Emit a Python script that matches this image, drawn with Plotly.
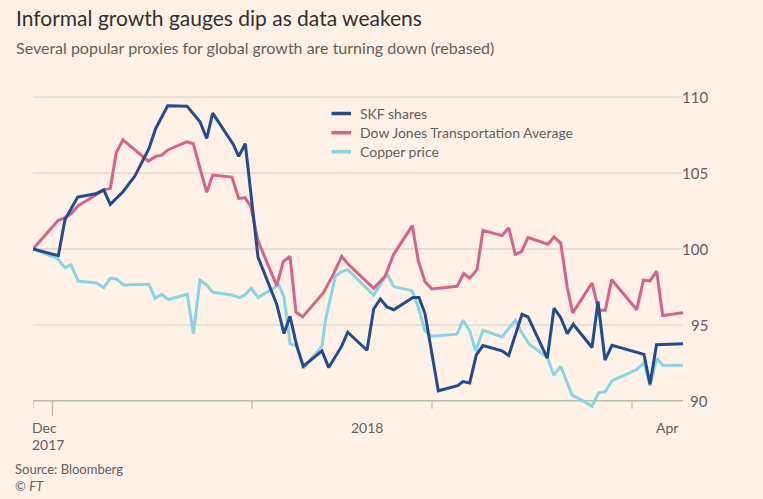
import plotly.graph_objects as go

# ---------------- data (t = position along the time axis, chart units) ----------------
series_names = ["SKF shares", "Dow Jones Transportation Average", "Copper price"]
series_colors = ["#234b8f", "#d4648c", "#86d5e3"]

skf_t = [0, 25.3, 32, 44.7, 62.7, 70.7, 77.3, 90, 102, 116, 122.7, 134.7, 154, 167, 173.7, 179.7,
         200.3, 205.7, 212.3, 225, 243.7, 251, 257, 263.7, 270.3, 289, 295.7, 308.7, 314.7, 334,
         340.7, 347.3, 354, 360.7, 380, 386, 392, 405.3, 424.7, 430, 436.7, 443.3, 450, 469, 475.7,
         489, 495, 514.3, 521, 527.7, 534.3, 540.3, 559, 565, 572, 579, 611, 617, 623.5, 650]
skf_v = [100, 99.56, 101.95, 103.42, 103.64, 103.9, 102.94, 103.77, 104.82, 106.62, 107.94, 109.43,
         109.41, 108.38, 107.28, 108.95, 106.89, 106.1, 106.93, 99.47, 96.36, 94.43, 95.57, 93.64,
         92.28, 93.29, 92.19, 93.6, 94.52, 93.33, 96.05, 96.71, 96.18, 96.0, 96.8, 96.8, 95.75, 90.66,
         91.0, 91.27, 91.18, 93.03, 93.64, 93.29, 92.98, 95.7, 95.53, 92.81, 96.1, 95.48, 94.43, 95.04,
         93.51, 96.54, 92.68, 93.65, 93.06, 91.09, 93.7, 93.76]

djt_t = [0, 25.3, 32, 38, 45.3, 58.7, 71.3, 77.3, 83.3, 90, 115.3, 122.7, 128.7, 135.3, 153.7, 160.3,
         173.7, 179.7, 199, 205.7, 211.7, 217.7, 225, 243.7, 250.3, 257, 263, 269.7, 290.3, 300.3,
         308.7, 315.3, 340.7, 352, 360.7, 379.3, 385.3, 392, 398.7, 424, 430.7, 436.7, 444, 450, 462,
         469, 475.7, 482.3, 488.3, 495, 515, 521, 527.7, 534.3, 539.7, 559, 565.7, 572.3, 578.7,
         603.7, 610.5, 617, 623.7, 629.7, 650]
djt_v = [100, 101.89, 102.06, 102.32, 102.85, 103.42, 103.9, 103.99, 106.36, 107.19, 105.79, 106.1,
         106.18, 106.54, 107.06, 106.93, 103.73, 104.87, 104.74, 103.33, 103.38, 102.85, 100.53, 97.59,
         99.17, 99.52, 95.83, 95.53, 97.11, 98.33, 99.52, 98.99, 97.41, 98.2, 99.65, 101.54, 99.21,
         97.85, 97.37, 97.54, 98.38, 98.07, 98.64, 101.23, 101.0, 100.88, 101.4, 99.65, 99.82, 100.75,
         100.31, 100.79, 100.39, 97.46, 95.79, 97.76, 95.96, 95.96, 97.98, 96.0, 97.95, 97.9, 98.54,
         95.62, 95.8]

copper_t = [0, 24, 32, 38, 45.3, 63.3, 70.7, 77.3, 83.3, 90.7, 116, 122, 128.7, 135.3, 154.3, 160.3,
            167, 173.7, 179.7, 199, 206.3, 211.7, 218.3, 225, 237, 245.7, 251, 257, 263.7, 270.3, 289,
            292.3, 302.3, 308.7, 314.7, 340.7, 354, 360.7, 379.3, 385.3, 392, 398.7, 424, 430, 436.7,
            442.7, 450, 462, 469, 482.3, 489, 496.3, 514.3, 521, 527.7, 539, 559, 565.7, 572.3, 579,
            603.7, 611, 617, 623.7, 629.7, 650]
copper_v = [100, 99.39, 98.77, 98.95, 97.89, 97.76, 97.46, 98.07, 98.03, 97.63, 97.68, 96.75, 97.02,
            96.67, 97.02, 94.43, 97.94, 97.63, 97.15, 96.97, 96.8, 96.97, 97.41, 96.8, 97.28, 97.63,
            96.84, 93.77, 93.6, 92.15, 93.6, 95.26, 98.2, 98.51, 98.64, 96.97, 98.38, 97.54, 97.24,
            96.14, 94.61, 94.25, 94.39, 95.31, 94.61, 93.29, 94.65, 94.34, 94.21, 95.31, 94.47, 93.73,
            92.85, 91.67, 92.28, 90.39, 89.65, 90.53, 90.61, 91.32, 92.06, 92.52, 90.98, 92.8, 92.34,
            92.34]

y_ticks = [90, 95, 100, 105, 110]
x_ticks = [0, 19.5, 219, 399, 599]
x_tick_long = [False, True, False, False, False]
x_labels = ["Dec<br>2017", "2018", "Apr"]
x_label_pos = [-2, 334, 634]
x_label_anchor = ["left", "center", "center"]

title = "Informal growth gauges dip as data weakens"
subtitle = "Several popular proxies for global growth are turning down (rebased)"
source = "Source: Bloomberg"

# ---------------- styling ----------------
BG = "#FFF1E5"
FONT = "Lato, 'Open Sans', sans-serif"
GRID = "#dcd6cd"
BASE = "#b9bcb0"
TXT = "#66605c"

X_RANGE = [0, 650]
Y_RANGE = [89, 111]
M_L, M_R, M_T, M_B = 33, 80, 82, 83
W, H = 763, 499
plot_h = H - M_T - M_B
pw = W - M_L - M_R
px_per_unit = plot_h / (Y_RANGE[1] - Y_RANGE[0])


def xpaper(t):
    return (t - X_RANGE[0]) / (X_RANGE[1] - X_RANGE[0])


def ypaper_px(py):
    return (H - M_B - py) / plot_h


def xpaper_px(px):
    return (px - M_L) / pw


fig = go.Figure()

all_t = [skf_t, djt_t, copper_t]
all_v = [skf_v, djt_v, copper_v]
for i in [2, 1, 0]:
    fig.add_trace(go.Scatter(
        x=all_t[i], y=all_v[i], mode="lines", name=series_names[i],
        line=dict(color=series_colors[i], width=3, shape="linear"),
        showlegend=False, hoverinfo="skip"))

shapes = []
annotations = []

for v in y_ticks[1:]:
    shapes.append(dict(type="line", xref="paper", yref="y", x0=0, x1=1, y0=v, y1=v,
                       line=dict(color=GRID, width=1.3), layer="below"))
shapes.append(dict(type="line", xref="paper", yref="y", x0=0, x1=1, y0=y_ticks[0], y1=y_ticks[0],
                   line=dict(color=BASE, width=1.5), layer="below"))
for t, long_ in zip(x_ticks, x_tick_long):
    ln = (17 if long_ else 8) / px_per_unit
    shapes.append(dict(type="line", xref="x", yref="y", x0=t, x1=t, y0=y_ticks[0], y1=y_ticks[0] - ln,
                       line=dict(color=BASE, width=1.3), layer="below"))

for v in y_ticks:
    annotations.append(dict(xref="paper", yref="y", x=xpaper_px(710), y=v,
                            text=str(v), showarrow=False, xanchor="right", yanchor="middle",
                            font=dict(family=FONT, size=15, color=TXT)))

LINE_GAP = 17
for lab, pos, anc in zip(x_labels, x_label_pos, x_label_anchor):
    for k, part in enumerate(lab.split("<br>")):
        annotations.append(dict(xref="paper", yref="paper", x=xpaper(pos),
                                y=ypaper_px(427 + k * LINE_GAP),
                                text=part, showarrow=False, xanchor=anc, yanchor="middle",
                                borderpad=0, font=dict(family=FONT, size=14, color=TXT)))

leg_y_px = [113.5, 132.7, 151.7]
for name, col, ypx in zip(series_names, series_colors, leg_y_px):
    yp = ypaper_px(ypx)
    shapes.append(dict(type="line", xref="paper", yref="paper",
                       x0=xpaper_px(331.5), x1=xpaper_px(351), y0=yp, y1=yp,
                       line=dict(color=col, width=3.5)))
    annotations.append(dict(xref="paper", yref="paper", x=xpaper_px(357.5), y=yp, text=name,
                            showarrow=False, xanchor="left", yanchor="middle",
                            font=dict(family=FONT, size=14, color=TXT)))

annotations.append(dict(xref="paper", yref="paper", x=xpaper_px(14), y=ypaper_px(17),
                        text=title, showarrow=False, xanchor="left", yanchor="middle",
                        font=dict(family=FONT, size=21, color="#33302e")))
annotations.append(dict(xref="paper", yref="paper", x=xpaper_px(14), y=ypaper_px(48),
                        text=subtitle, showarrow=False, xanchor="left", yanchor="middle",
                        font=dict(family=FONT, size=16, color=TXT)))
annotations.append(dict(xref="paper", yref="paper", x=xpaper_px(13), y=ypaper_px(469),
                        text=source, showarrow=False, xanchor="left", yanchor="middle",
                        font=dict(family=FONT, size=13, color=TXT)))
annotations.append(dict(xref="paper", yref="paper", x=xpaper_px(13), y=ypaper_px(486),
                        text="© <i>FT</i>", showarrow=False, xanchor="left", yanchor="middle",
                        font=dict(family=FONT, size=13, color=TXT)))

fig.update_layout(
    width=W, height=H, paper_bgcolor=BG, plot_bgcolor=BG,
    margin=dict(l=M_L, r=M_R, t=M_T, b=M_B, autoexpand=False),
    xaxis=dict(range=X_RANGE, showgrid=False, zeroline=False, showticklabels=False,
               showline=False, ticks="", fixedrange=True),
    yaxis=dict(range=Y_RANGE, showgrid=False, zeroline=False, showticklabels=False,
               showline=False, ticks="", fixedrange=True),
    shapes=shapes, annotations=annotations, showlegend=False,
)

fig.write_html("out.html", config={"displayModeBar": False},
               post_script="document.body.style.margin='0';document.body.style.overflow='hidden';")
